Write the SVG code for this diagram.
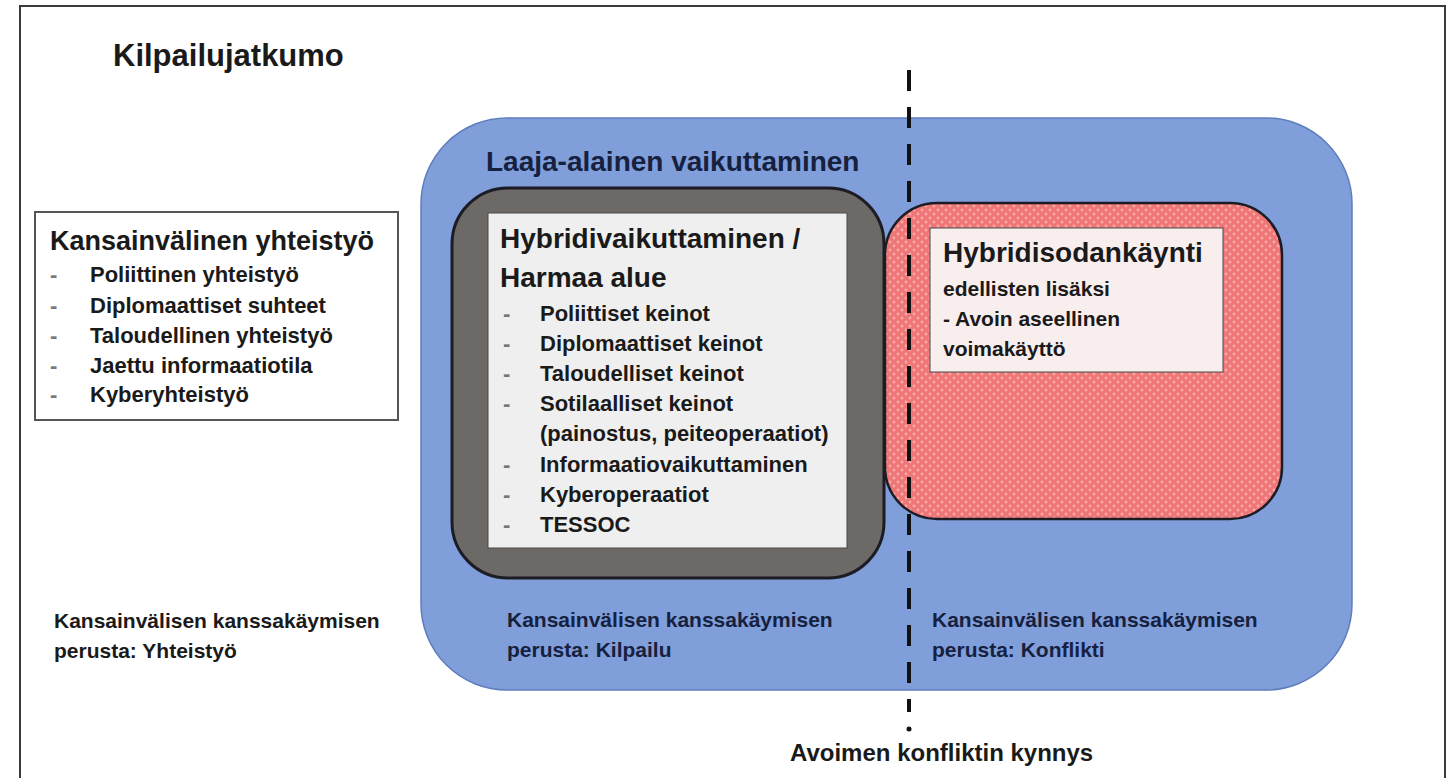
<svg xmlns="http://www.w3.org/2000/svg" width="1448" height="778" viewBox="0 0 1448 778">
  <defs>
    <pattern id="dots" width="8" height="8" patternUnits="userSpaceOnUse">
      <rect width="8" height="8" fill="#ef7676"/>
      <circle cx="2" cy="2" r="1.4" fill="#f8a9a9"/>
      <circle cx="6" cy="6" r="1.4" fill="#f8a9a9"/>
    </pattern>
    <style>
      text { font-family: "Liberation Sans", Arial, sans-serif; font-weight: bold; fill: #1a1a1a; }
      .title { font-size: 31px; }
      .head { font-size: 28px; }
      .head27 { font-size: 27px; }
      .item { font-size: 22px; }
      .small { font-size: 21px; }
      .dash { font-size: 22px; fill: #777; }
      .navy { fill: #15213f; }
    </style>
  </defs>

  <rect x="0" y="0" width="1448" height="778" fill="#ffffff"/>

  <g id="frame">
    <rect x="20" y="6" width="1425" height="820" fill="none" stroke="#3a3a3a" stroke-width="2"/>
  </g>

  <g id="title">
    <text class="title" x="113" y="66">Kilpailujatkumo</text>
  </g>

  <g id="kansainvalinen-yhteistyo">
    <rect x="35" y="212" width="363" height="208" fill="#ffffff" stroke="#555" stroke-width="2"/>
    <text class="head27" x="50" y="250">Kansainvälinen yhteistyö</text>
    <text class="dash" x="50" y="282">-</text>
    <text class="item" x="90" y="282">Poliittinen yhteistyö</text>
    <text class="dash" x="50" y="313">-</text>
    <text class="item" x="90" y="313">Diplomaattiset suhteet</text>
    <text class="dash" x="50" y="343">-</text>
    <text class="item" x="90" y="343">Taloudellinen yhteistyö</text>
    <text class="dash" x="50" y="373">-</text>
    <text class="item" x="90" y="373">Jaettu informaatiotila</text>
    <text class="dash" x="50" y="402">-</text>
    <text class="item" x="90" y="402">Kyberyhteistyö</text>
  </g>

  <g id="laaja-alainen-vaikuttaminen">
    <rect x="421" y="118" width="931" height="572" rx="86" ry="86" fill="#809ed9" stroke="#5e7dbd" stroke-width="1.5"/>
    <text class="head navy" x="486" y="171">Laaja-alainen vaikuttaminen</text>
  </g>

  <g id="hybridivaikuttaminen">
    <rect x="452" y="188" width="432" height="390" rx="56" ry="56" fill="#6d6967" stroke="#1c1c24" stroke-width="3"/>
    <rect x="488" y="213" width="359" height="335" fill="#efefef" stroke="#4a4a4a" stroke-width="1"/>
    <text class="head" x="500" y="248">Hybridivaikuttaminen /</text>
    <text class="head" x="500" y="287">Harmaa alue</text>
    <text class="dash" x="503" y="321">-</text>
    <text class="item" x="540" y="321">Poliittiset keinot</text>
    <text class="dash" x="503" y="351">-</text>
    <text class="item" x="540" y="351">Diplomaattiset keinot</text>
    <text class="dash" x="503" y="381">-</text>
    <text class="item" x="540" y="381">Taloudelliset keinot</text>
    <text class="dash" x="503" y="411">-</text>
    <text class="item" x="540" y="411">Sotilaalliset keinot</text>
    <text class="item" x="540" y="441">(painostus, peiteoperaatiot)</text>
    <text class="dash" x="503" y="472">-</text>
    <text class="item" x="540" y="472">Informaatiovaikuttaminen</text>
    <text class="dash" x="503" y="502">-</text>
    <text class="item" x="540" y="502">Kyberoperaatiot</text>
    <text class="dash" x="503" y="532">-</text>
    <text class="item" x="540" y="532">TESSOC</text>
  </g>

  <g id="hybridisodankaynti">
    <rect x="885" y="203" width="397" height="316" rx="52" ry="52" fill="url(#dots)" stroke="#1c1c24" stroke-width="2.5"/>
    <rect x="930" y="228" width="293" height="144" fill="#f9eeee" stroke="#4a4a4a" stroke-width="1"/>
    <text class="head" x="943" y="262">Hybridisodankäynti</text>
    <text class="small" x="943" y="296">edellisten lisäksi</text>
    <text class="small" x="943" y="326">- Avoin aseellinen</text>
    <text class="small" x="943" y="356">voimakäyttö</text>
  </g>

  <g id="connectors">
    <line x1="909" y1="70" x2="909" y2="712" stroke="#111" stroke-width="4" stroke-dasharray="21 16"/>
    <circle cx="909" cy="729" r="2.5" fill="#111"/>
  </g>

  <g id="label-yhteistyo">
    <text class="small" x="54" y="628">Kansainvälisen kanssakäymisen</text>
    <text class="small" x="54" y="658">perusta: Yhteistyö</text>
  </g>
  <g id="label-kilpailu">
    <text class="small navy" x="507" y="627">Kansainvälisen kanssakäymisen</text>
    <text class="small navy" x="507" y="657">perusta: Kilpailu</text>
  </g>
  <g id="label-konflikti">
    <text class="small navy" x="932" y="627">Kansainvälisen kanssakäymisen</text>
    <text class="small navy" x="932" y="657">perusta: Konflikti</text>
  </g>
  <g id="label-kynnys">
    <text x="790" y="761" style="font-size:24px">Avoimen konfliktin kynnys</text>
  </g>
</svg>
